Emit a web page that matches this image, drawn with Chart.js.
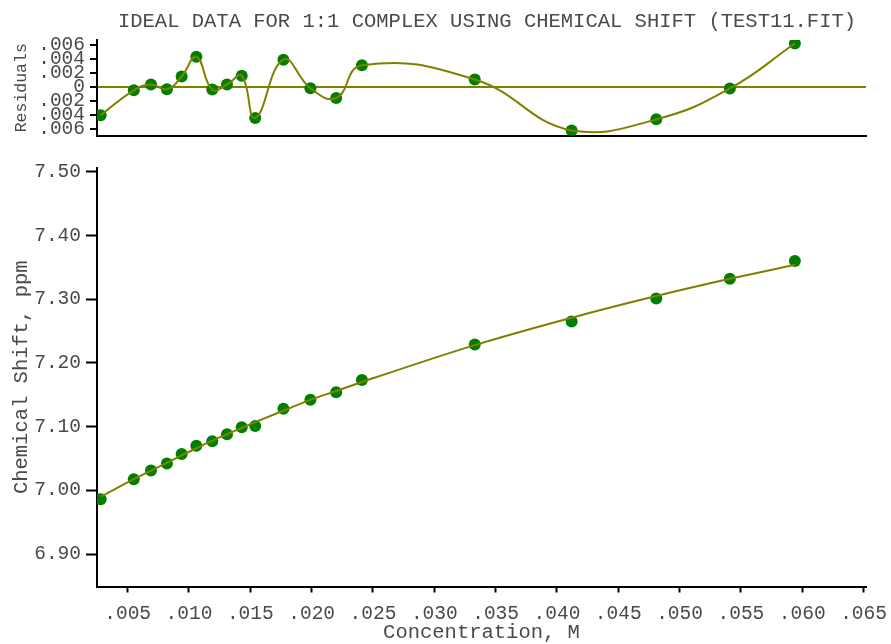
<!DOCTYPE html>
<html>
<head>
<meta charset="utf-8">
<script src="https://cdn.jsdelivr.net/npm/chart.js@4/dist/chart.umd.min.js"></script>
<style>
  html, body { margin: 0; padding: 0; background: #ffffff; }
  #wrap { position: relative; width: 891px; height: 644px; overflow: hidden; }
  #residCanvas { position: absolute; left: 0; top: 0; }
  #shiftCanvas { position: absolute; left: 0; top: 150px; }
</style>
</head>
<body>
<div id="wrap">
  <canvas id="residCanvas" width="891" height="153"></canvas>
  <canvas id="shiftCanvas" width="891" height="494"></canvas>
</div>
<script>
// Titration data: host concentration (M) vs. observed chemical shift (ppm)
const concentration = [0.0028, 0.0055, 0.0069, 0.0082, 0.0094, 0.0106, 0.0119, 0.0131, 0.0143, 0.0154,
                       0.0177, 0.0199, 0.0220, 0.0241, 0.0333, 0.0412, 0.0481, 0.0541, 0.0594];
const observedShift = [6.986, 7.0175, 7.031, 7.042, 7.057, 7.070, 7.077, 7.088, 7.099, 7.101,
                       7.128, 7.142, 7.154, 7.173, 7.229, 7.265, 7.301, 7.332, 7.360];
// Calculated shift from the 1:1 binding fit
const fittedShift   = [6.990, 7.0175, 7.031, 7.043, 7.055, 7.066, 7.078, 7.088, 7.098, 7.107,
                       7.125, 7.142, 7.156, 7.170, 7.228, 7.271, 7.305, 7.332, 7.354];
// Residuals (observed - calculated), ppm
const residuals     = [-0.0040, -0.00046, 0.00036, -0.00031, 0.0015, 0.0043, -0.00036, 0.00036, 0.0016, -0.0044,
                       0.0039, -0.00017, -0.00156, 0.0031, 0.00107, -0.0062, -0.0046, -0.0002, 0.0062];

const chartTitle = 'IDEAL DATA FOR 1:1 COMPLEX USING CHEMICAL SHIFT (TEST11.FIT)';
const concTicks = [0.005, 0.010, 0.015, 0.020, 0.025, 0.030, 0.035, 0.040, 0.045, 0.050, 0.055, 0.060, 0.065];
const concTickLabels = ['.005', '.010', '.015', '.020', '.025', '.030', '.035', '.040', '.045', '.050', '.055', '.060', '.065'];
const shiftTicks = [6.90, 7.00, 7.10, 7.20, 7.30, 7.40, 7.50];
const shiftTickLabels = ['6.90', '7.00', '7.10', '7.20', '7.30', '7.40', '7.50'];
const residTicks = [-0.006, -0.004, -0.002, 0, 0.002, 0.004, 0.006];
const residTickLabels = ['.006', '.004', '.002', '0', '.002', '.004', '.006'];

const OLIVE = '#808000';
const GREEN = '#008000';
const TEXT = '#4a4a4a';
const MONO = '"Liberation Mono", "DejaVu Sans Mono", monospace';
const TICK_FONT = { family: MONO, size: 19.5 };
const TITLE_FONT = { family: MONO, size: 20.5 };
const SMALL_TITLE_FONT = { family: MONO, size: 16.5 };

const pts = (ys) => concentration.map((x, i) => ({ x: x, y: ys[i] }));
const fixedTicks = (values) => (scale) => { scale.ticks = values.map(v => ({ value: v })); };
// Fixed axis band size; edge labels may overhang into the outer margin
const fixedWidth = (w) => (s) => { s.width = w; s.paddingTop = 0; s.paddingBottom = 0; };
const fixedHeight = (h) => (s) => { s.height = h; s.paddingLeft = 0; s.paddingRight = 0; };

// Heading printed above the residual panel
const headingPlugin = {
  id: 'heading',
  afterDraw(chart, args, opts) {
    const ctx = chart.ctx;
    ctx.save();
    ctx.font = `${opts.size}px ${MONO}`;
    ctx.fillStyle = TEXT;
    ctx.textAlign = 'center';
    ctx.textBaseline = 'middle';
    ctx.fillText(opts.text, opts.x, opts.y);
    ctx.restore();
  }
};

Chart.defaults.font.family = MONO;

// Upper panel: residuals of the fit
new Chart(document.getElementById('residCanvas'), {
  type: 'line',
  data: {
    datasets: [
      { data: pts(residuals), borderColor: OLIVE, borderWidth: 2, pointRadius: 0, tension: 0.45, fill: false },
      { data: pts(residuals), showLine: false, pointRadius: 6, pointBackgroundColor: GREEN, pointBorderWidth: 0 }
    ]
  },
  plugins: [headingPlugin],
  options: {
    responsive: false, animation: false, devicePixelRatio: 1,
    layout: { padding: { left: 0, right: 25, top: 40, bottom: 17.5 } },
    plugins: {
      legend: { display: false },
      tooltip: { enabled: false },
      heading: { text: chartTitle, x: 487, y: 22, size: 20.5 }
    },
    scales: {
      x: {
        type: 'linear', min: 0.0025, max: 0.0652,
        afterBuildTicks: fixedTicks(concTicks),
        ticks: { display: false },
        grid: { display: false },
        border: { display: true, color: '#000000', width: 2 },
        afterFit: fixedHeight(0)
      },
      y: {
        type: 'linear', min: -0.0069, max: 0.0067,
        afterBuildTicks: fixedTicks(residTicks),
        ticks: { autoSkip: false, callback: (v, i) => residTickLabels[i], color: TEXT, font: TICK_FONT, padding: 5 },
        grid: {
          drawOnChartArea: true, drawTicks: true, tickLength: 7, tickColor: '#000000', tickWidth: 2,
          color: (ctx) => (ctx.tick && ctx.tick.value === 0) ? OLIVE : 'rgba(0,0,0,0)',
          lineWidth: 2
        },
        border: { color: '#000000', width: 2 },
        title: { display: true, text: 'Residuals', color: TEXT, font: SMALL_TITLE_FONT, padding: { top: 12, bottom: 0 } },
        afterFit: fixedWidth(97)
      }
    }
  }
});

// Lower panel: observed shifts with the fitted curve
new Chart(document.getElementById('shiftCanvas'), {
  type: 'line',
  data: {
    datasets: [
      { data: pts(fittedShift), borderColor: OLIVE, borderWidth: 2, pointRadius: 0,
        cubicInterpolationMode: 'monotone', fill: false },
      { data: pts(observedShift), showLine: false, pointRadius: 6, pointBackgroundColor: GREEN, pointBorderWidth: 0 }
    ]
  },
  options: {
    responsive: false, animation: false, devicePixelRatio: 1,
    layout: { padding: { left: 0, right: 25, top: 18, bottom: 0 } },
    plugins: { legend: { display: false }, tooltip: { enabled: false } },
    scales: {
      x: {
        type: 'linear', min: 0.0025, max: 0.0652,
        afterBuildTicks: fixedTicks(concTicks),
        ticks: { autoSkip: false, maxRotation: 0, callback: (v, i) => concTickLabels[i], color: TEXT, font: TICK_FONT, padding: 10 },
        grid: { drawOnChartArea: false, drawTicks: true, tickLength: 6, tickColor: '#000000', tickWidth: 2 },
        border: { color: '#000000', width: 2 },
        title: { display: true, text: 'Concentration, M', color: TEXT, font: TITLE_FONT, padding: { top: 0, bottom: -1 } },
        afterFit: fixedHeight(57.5)
      },
      y: {
        type: 'linear', min: 6.849, max: 7.506,
        afterBuildTicks: fixedTicks(shiftTicks),
        ticks: { autoSkip: false, callback: (v, i) => shiftTickLabels[i], color: TEXT, font: TICK_FONT, padding: 5 },
        grid: { drawOnChartArea: false, drawTicks: true, tickLength: 11, tickColor: '#000000', tickWidth: 2 },
        border: { color: '#000000', width: 2 },
        title: { display: true, text: 'Chemical Shift, ppm', color: TEXT, font: TITLE_FONT, padding: { top: 9, bottom: 0 } },
        afterFit: fixedWidth(97)
      }
    }
  }
});
</script>
</body>
</html>
